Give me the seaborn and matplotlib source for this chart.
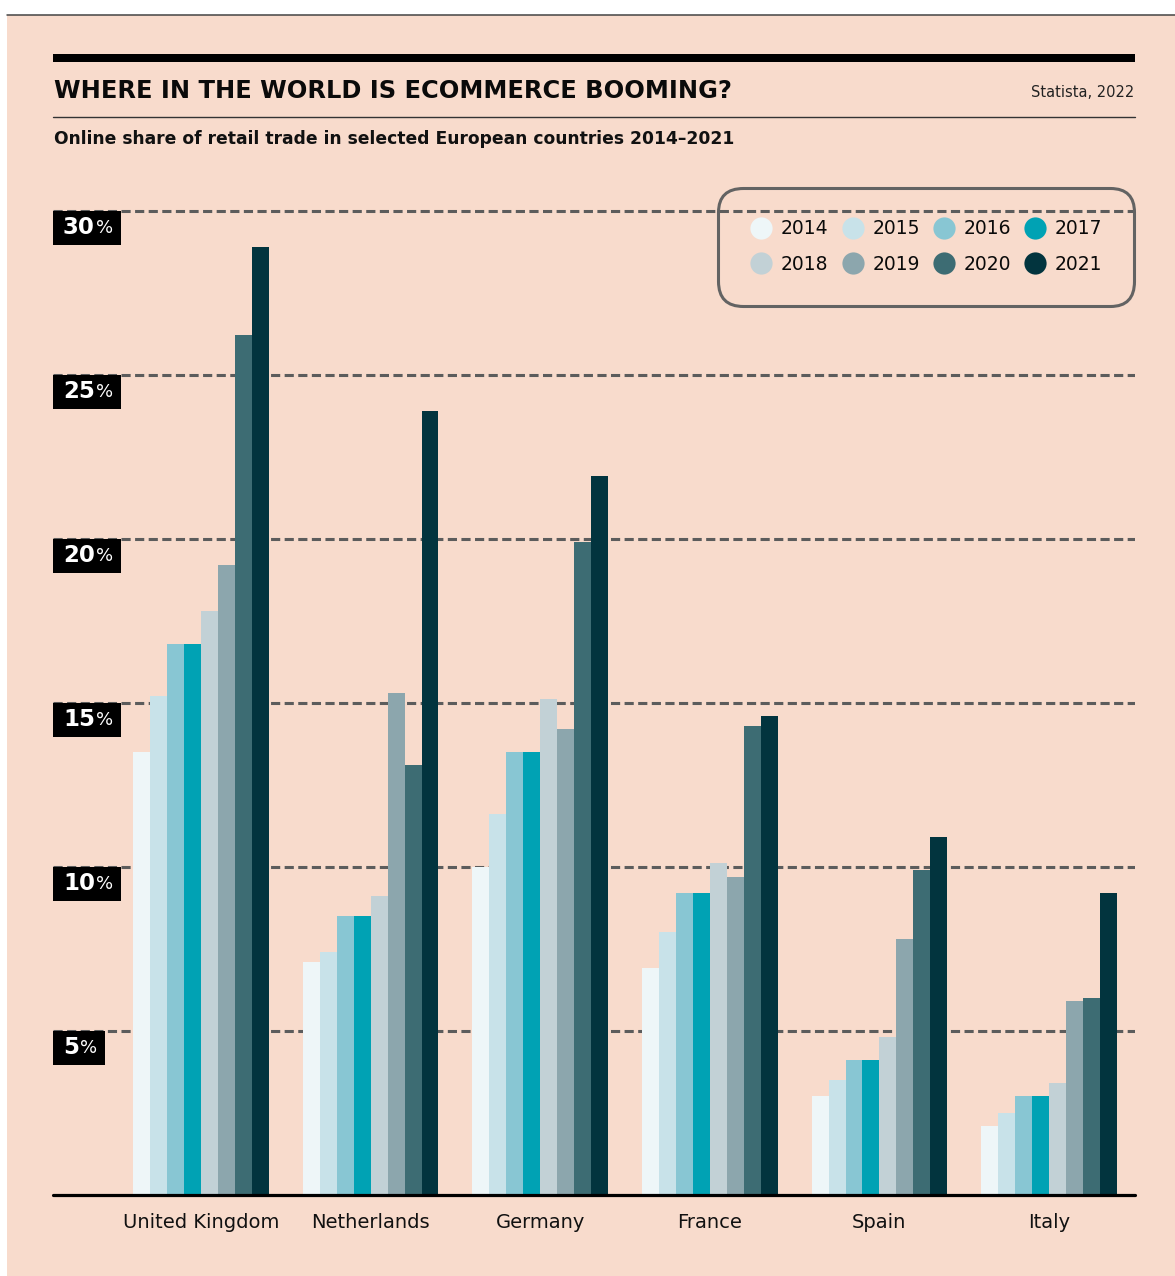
import numpy as np
import pandas as pd
import matplotlib
matplotlib.use("Agg")
import matplotlib.pyplot as plt
import seaborn as sns
from matplotlib.patches import Rectangle
from matplotlib.lines import Line2D

# ---- data -------------------------------------------------------------
countries = ["United Kingdom", "Netherlands", "Germany", "France", "Spain", "Italy"]
years = ["2014", "2015", "2016", "2017", "2018", "2019", "2020", "2021"]

share_2014 = [13.5, 7.1, 10.0, 6.9, 3.0, 2.1]
share_2015 = [15.2, 7.4, 11.6, 8.0, 3.5, 2.5]
share_2016 = [16.8, 8.5, 13.5, 9.2, 4.1, 3.0]
share_2017 = [16.8, 8.5, 13.5, 9.2, 4.1, 3.0]
share_2018 = [17.8, 9.1, 15.1, 10.1, 4.8, 3.4]
share_2019 = [19.2, 15.3, 14.2, 9.7, 7.8, 5.9]
share_2020 = [26.2, 13.1, 19.9, 14.3, 9.9, 6.0]
share_2021 = [28.9, 23.9, 21.9, 14.6, 10.9, 9.2]

year_colors = ["#EEF6F8", "#C8E2E9", "#88C6D3", "#00A2B4",
               "#C2D1D6", "#8CA6AD", "#3D6C73", "#02343E"]

y_ticks = [5, 10, 15, 20, 25, 30]

title = "WHERE IN THE WORLD IS ECOMMERCE BOOMING?"
subtitle = "Online share of retail trade in selected European countries 2014\u20132021"
source = "Statista, 2022"

series = [share_2014, share_2015, share_2016, share_2017,
          share_2018, share_2019, share_2020, share_2021]
df = pd.DataFrame(
    [(c, y, v) for y, vals in zip(years, series) for c, v in zip(countries, vals)],
    columns=["country", "year", "share"],
)

# ---- style ------------------------------------------------------------
PEACH = "#F8DBCC"
sns.set_style("white")
plt.rcParams["font.family"] = ["DejaVu Sans"]
plt.rcParams["text.color"] = "#111111"

W, H = 1175, 1276
fig = plt.figure(figsize=(W / 100, H / 100), dpi=100)
fig.patch.set_facecolor("white")


def fx(px):
    return px / W


def fy(py):
    return 1 - py / H


# page background and rules
fig.add_artist(Rectangle((fx(7), 0), 1 - fx(7), fy(15), transform=fig.transFigure,
                         facecolor=PEACH, edgecolor="none", zorder=0))
fig.add_artist(Line2D([fx(7), 1], [fy(14.5), fy(14.5)], transform=fig.transFigure,
                      color="#444444", lw=1.1, zorder=1))
fig.add_artist(Rectangle((fx(53), fy(61.5)), fx(1135) - fx(53), 7.5 / H,
                         transform=fig.transFigure, facecolor="black",
                         edgecolor="none", zorder=1))
fig.add_artist(Line2D([fx(53), fx(1135)], [fy(116.5), fy(116.5)],
                      transform=fig.transFigure, color="#333333", lw=1.0, zorder=1))

fig.text(fx(54), fy(98.5), title, fontsize=17.4, weight="bold", ha="left",
         va="baseline", color="#0a0a0a")
fig.text(fx(1134), fy(97), source, fontsize=10.5, ha="right", va="baseline",
         color="#222222")
fig.text(fx(54), fy(144), subtitle, fontsize=12.3, weight="bold", ha="left",
         va="baseline", color="#111111")

# ---- chart ------------------------------------------------------------
y0_px, ytop_px = 1194.7, 187.7
ax = fig.add_axes([fx(53), fy(y0_px), fx(1135) - fx(53), (y0_px - ytop_px) / H])
ax.set_facecolor("none")

sns.barplot(data=df, x="country", y="share", hue="year", palette=year_colors,
            saturation=1, width=0.8, linewidth=0, legend=False, ax=ax, zorder=2)

ax.set_ylim(0, 30.7)
ax.set_xlim(-0.873, 5.507)

for v in y_ticks:
    ax.axhline(v, color="#5c5c5c", lw=2.2, linestyle=(0, (3.0, 1.45)), zorder=1)
ax.axhline(0, color="black", lw=2.3, zorder=3, clip_on=False)

for s in ax.spines.values():
    s.set_visible(False)
ax.set_yticks([])
ax.set_xlabel("")
ax.set_ylabel("")
ax.tick_params(axis="x", length=0, pad=13.5, labelsize=14, labelcolor="#111111")

# legend
order = [0, 4, 1, 5, 2, 6, 3, 7]
handles = [Line2D([], [], marker="o", ls="", ms=16, markerfacecolor=year_colors[i],
                  markeredgewidth=0) for i in order]
labels = [years[i] for i in order]
leg = fig.legend(handles, labels, ncol=4, loc="upper right",
                 bbox_to_anchor=(fx(1134), fy(188)), frameon=True, fontsize=13.5,
                 handlelength=1.2, handletextpad=0.45, columnspacing=0.69,
                 labelspacing=0.88, borderpad=1.68, borderaxespad=0)
for t in leg.get_texts():
    t.set_color("#0a0a0a")
frame = leg.get_frame()
frame.set_facecolor("none")
frame.set_edgecolor("#636363")
frame.set_linewidth(2.2)
frame.set_alpha(None)
frame.set_boxstyle("round,pad=0,rounding_size=1.3")

# y labels: black tags hanging below each gridline
fig.canvas.draw()
renderer = fig.canvas.get_renderer()
inv = fig.transFigure.inverted()
x_left = ax.transAxes.transform((0, 0))[0]
for v in y_ticks:
    y_disp = ax.transData.transform((0, v))[1]
    yc = y_disp - 17
    t_num = fig.text(*inv.transform((x_left + 10, yc)), f"{v}", fontsize=16.5,
                     weight="bold", color="white", ha="left", va="center", zorder=6)
    wn = t_num.get_window_extent(renderer).width
    t_pct = fig.text(*inv.transform((x_left + 10 + wn + 1, yc)), "%", fontsize=13,
                     color="white", ha="left", va="center", zorder=6)
    wp = t_pct.get_window_extent(renderer).width
    box_w = 10 + wn + 1 + wp + 8
    bx0, by0 = inv.transform((x_left, y_disp - 34))
    bx1, by1 = inv.transform((x_left + box_w, y_disp))
    fig.add_artist(Rectangle((bx0, by0), bx1 - bx0, by1 - by0,
                             transform=fig.transFigure, facecolor="black",
                             edgecolor="none", zorder=5))

fig.savefig("out.png", dpi=100, facecolor=fig.get_facecolor())
